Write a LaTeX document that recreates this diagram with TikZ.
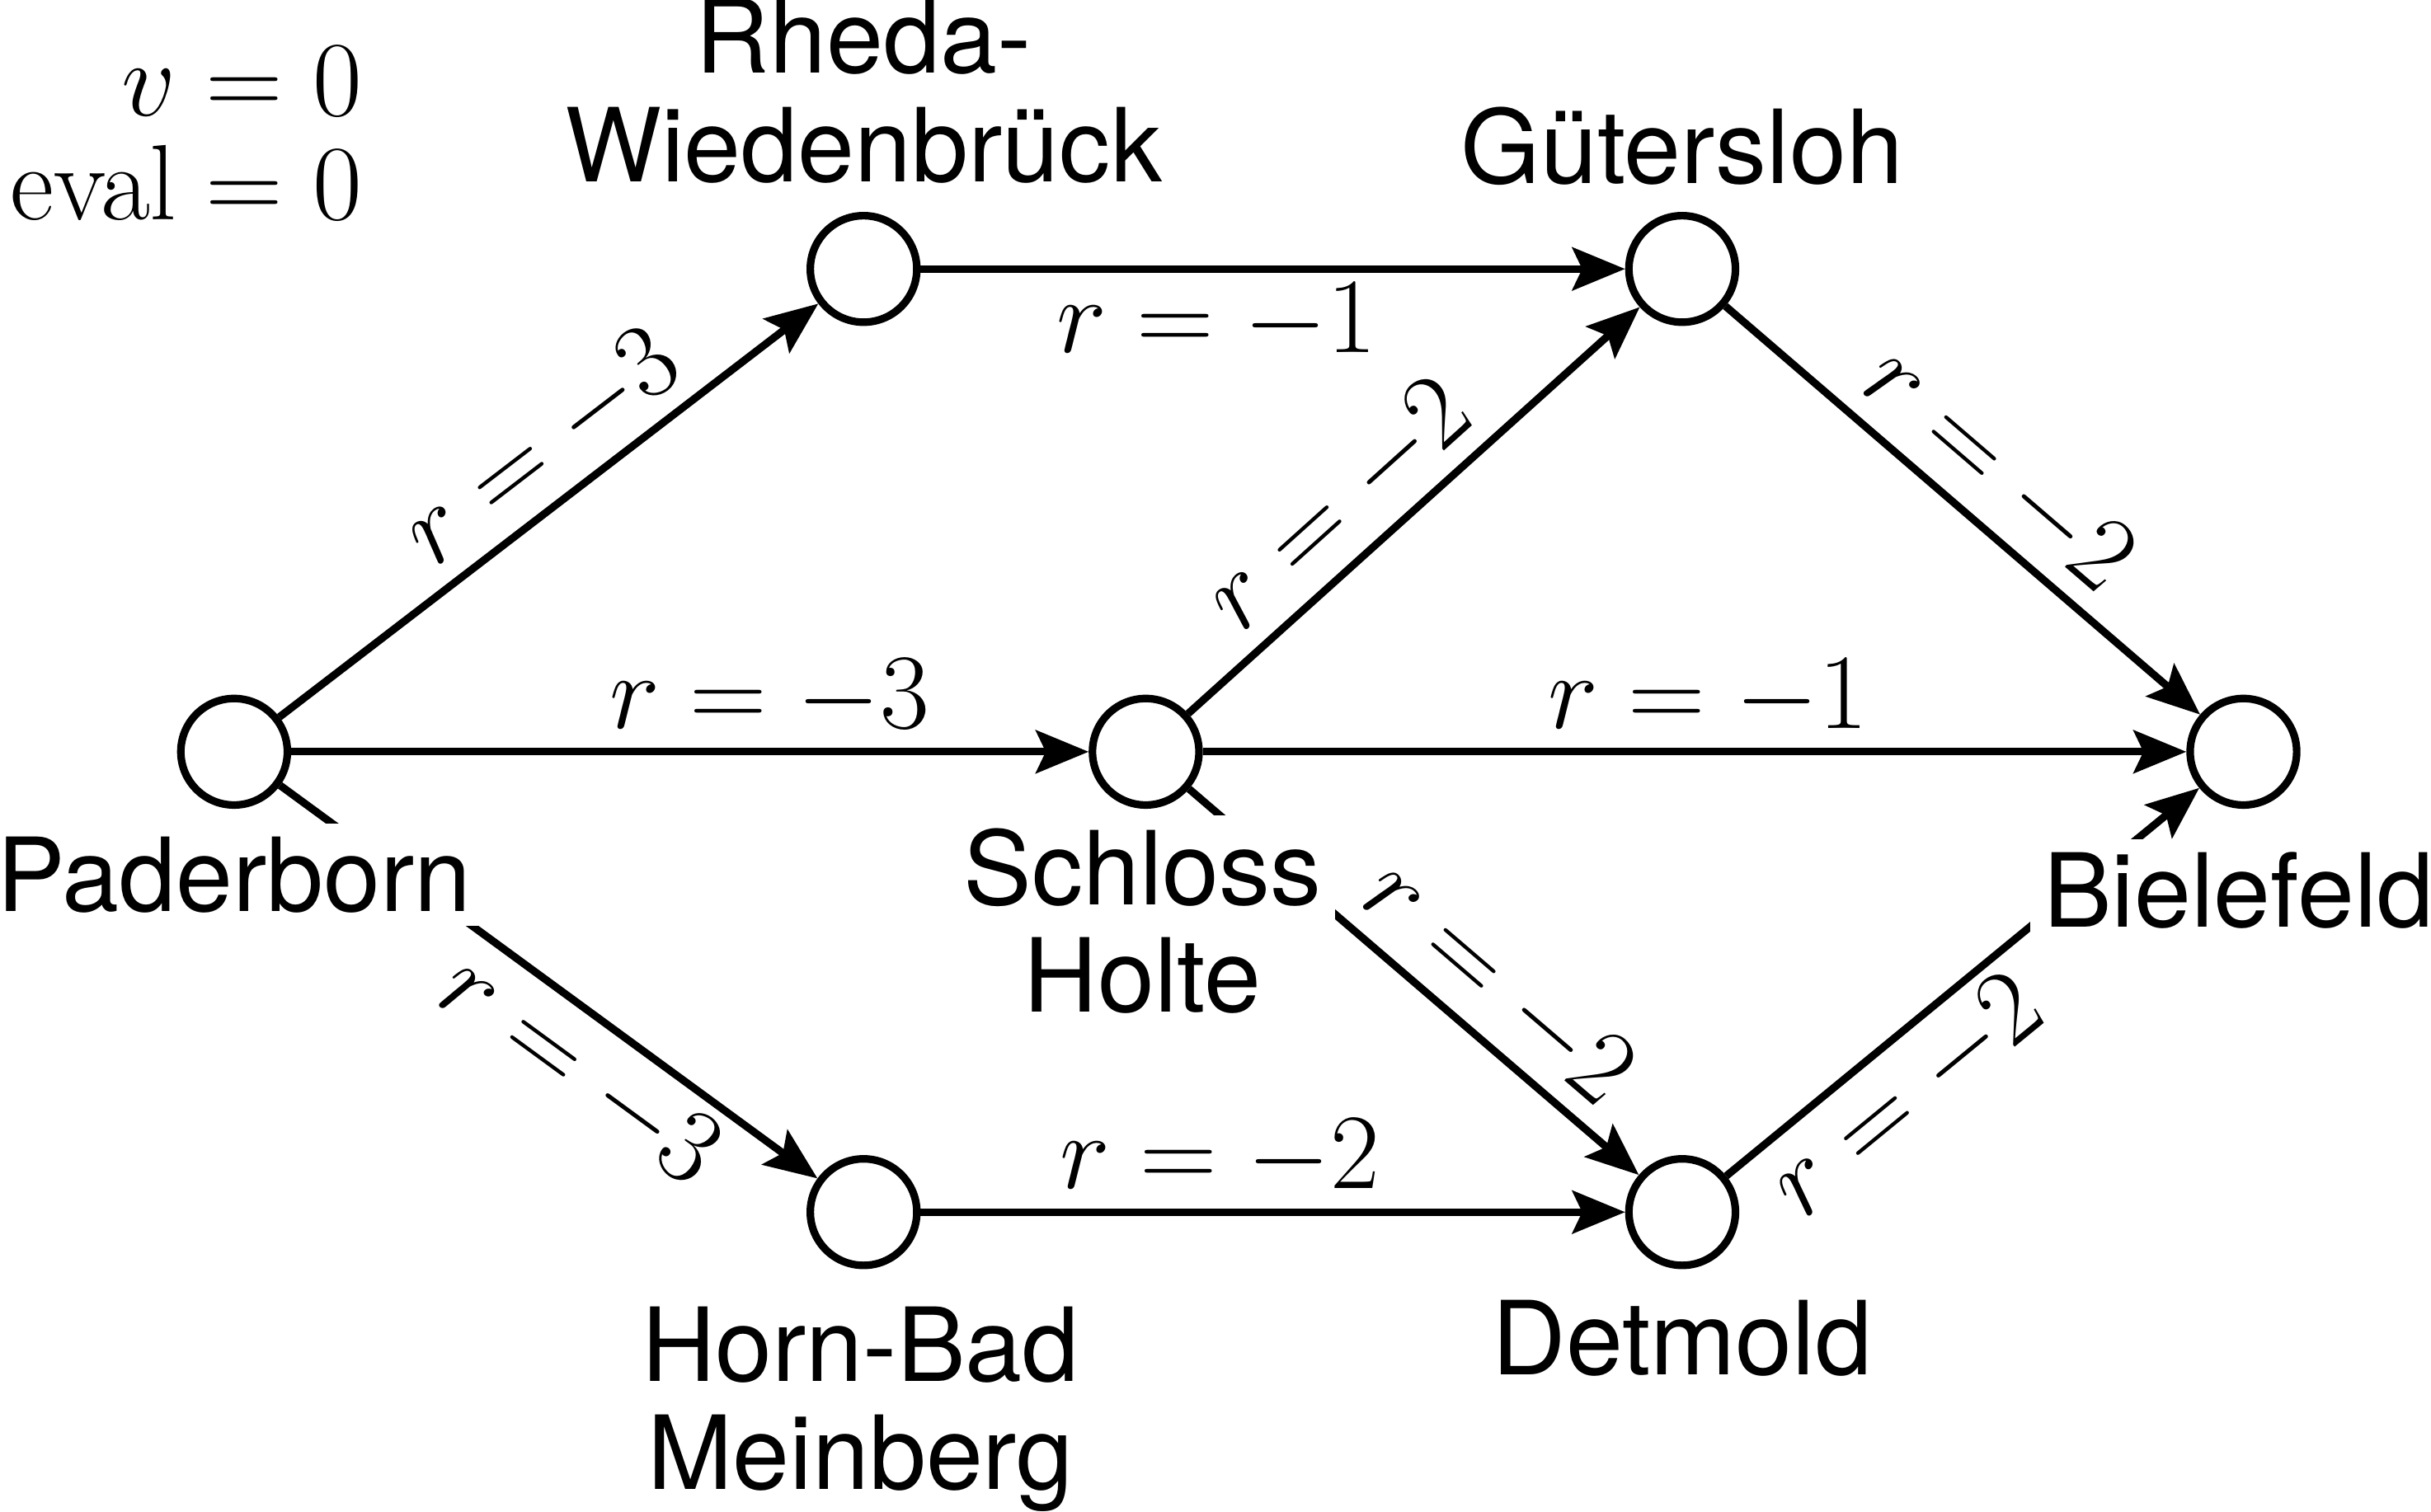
\RequirePackage{fix-cm}
\documentclass[tikz,border=0pt]{standalone}
\usepackage{fontspec}
\newfontfamily\heros{TeX Gyre Heros}
\usetikzlibrary{arrows.meta}
\newcommand{\cmrseventeen}[1]{\mbox{\fontencoding{OT1}\fontfamily{cmr}\selectfont #1}}
\begin{document}
\begin{tikzpicture}[x=0.47pt,y=-0.47pt,
  city/.style={circle,draw,line width=2.3pt,minimum size=32.3pt,inner sep=0pt},
  cityname/.style={font=\heros\fontsize{31}{33}\selectfont,anchor=base,fill=white,inner sep=4pt},
  road/.style={line width=2.3pt,-{Stealth[length=16pt,width=13pt,inset=3pt]}},
  rew/.style={font=\fontsize{32.5}{34}\selectfont,inner sep=3.3pt,sloped},
  info/.style={font=\fontsize{32.5}{34}\selectfont,inner sep=0pt,anchor=base east}]
\useasboundingbox (0,0) rectangle (1568,975);

% value display
\node[info] (vval) at (234,74.5) {$v = 0$};
\node[info] (evalval) at (234,142) {$\cmrseventeen{eval} = 0$};

% states
\node[city] (P) at (151,485) {};
\node[city] (R) at (557,173.5) {};
\node[city] (G) at (1085,173.5) {};
\node[city] (S) at (739,485) {};
\node[city] (B) at (1447,485) {};
\node[city] (H) at (557,782) {};
\node[city] (D) at (1085,782) {};

% transitions
\draw[road] (P) -- node[rew,pos=0.548,above]{$r = -3$} (R);
\draw[road] (R) -- node[rew,pos=0.42,below]{$r = -1$} (G);
\draw[road] (P) -- node[rew,pos=0.60,above]{$r = -3$} (S);
\draw[road] (S) -- node[rew,pos=0.413,above]{$r = -2$} (G);
\draw[road] (S) -- node[rew,pos=0.514,above]{$r = -1$} (B);
\draw[road] (G) -- node[rew,pos=0.50,above]{$r = -2$} (B);
\draw[road] (P) -- node[rew,pos=0.615,below]{$r = -3$} (H);
\draw[road] (H) -- node[rew,pos=0.425,above]{$r = -2$} (D);
\draw[road] (S) -- node[rew,pos=0.608,above]{$r = -2$} (D);
\draw[road] (D) -- node[rew,pos=0.31,below]{$r = -2$} (B);

% city names
\node[cityname] (Pname) at (151,588) {Paderborn};
\node[cityname,inner sep=1pt] (Rname1) at (557,47) {Rheda-};
\node[cityname,inner sep=1pt] (Rname2) at (557,117.5) {Wiedenbrück};
\node[cityname,inner sep=1pt] (Gname) at (1085,118.6) {Gütersloh};
\node[cityname] (Sname1) at (737,584) {Schloss};
\node[cityname] (Sname2) at (737,653) {Holte};
\node[cityname] (Bname) at (1444,598) {Bielefeld};
\node[cityname] (Hname1) at (555,891) {Horn-Bad};
\node[cityname,inner sep=1pt] (Hname2) at (555,961) {Meinberg};
\node[cityname] (Dname) at (1085,887) {Detmold};
\end{tikzpicture}
\end{document}
